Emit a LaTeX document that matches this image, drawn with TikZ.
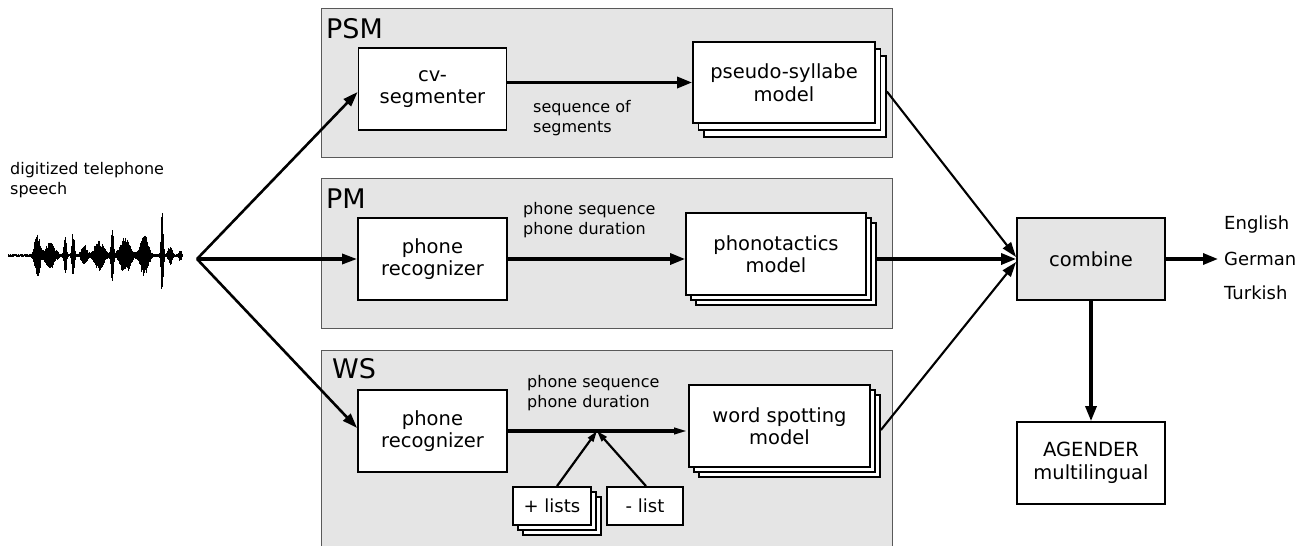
\documentclass[tikz,border=0pt]{standalone}
\usepackage{fontspec}
\setmainfont{DejaVu Sans}
\usetikzlibrary{arrows.meta}
\newcommand\stk[8]{% name, x, y, w, h, dx, dy, text
  \node[box, minimum width=#4, minimum height=#5] (#1c) at (#2+2*#6,#3+2*#7) {};
  \node[box, minimum width=#4, minimum height=#5] (#1b) at (#2+#6,#3+#7) {};
  \node[box, minimum width=#4, minimum height=#5] (#1) at (#2,#3) {#8};
}
\pgfmathdeclarefunction{gb}{3}{%
  \pgfmathparse{min(abs(#1-#2)/#3,6)}%
  \pgfmathparse{exp(-\pgfmathresult*\pgfmathresult)}}
\begin{document}
\begin{tikzpicture}[x=1pt,y=-1pt,
  panel/.style={draw=black!65, fill=black!10, line width=1pt},
  box/.style={draw, line width=1.8pt, fill=white, align=center, inner sep=0pt,
    font=\fontsize{19.5}{22.5}\selectfont},
  plab/.style={font=\fontsize{27}{30}\selectfont, anchor=west, inner sep=0pt},
  lab/.style={font=\fontsize{16}{20}\selectfont, align=left, anchor=west, inner sep=0pt},
  lang/.style={font=\fontsize{18}{22}\selectfont, anchor=west, inner sep=0pt},
  arr/.style={-{Triangle[length=15pt,width=11pt]}, line width=3.2pt},
  darr/.style={-{Triangle[length=15pt,width=10pt]}, line width=2.6pt},
  marr/.style={-{Triangle[length=15pt,width=10pt]}, line width=3.2pt},
  tarr/.style={-{Triangle[length=15pt,width=10pt]}, line width=2.1pt},
  sarr/.style={-{Triangle[length=14pt,width=6pt]}, line width=3.2pt},
  larr/.style={-{Triangle[length=11pt,width=6.5pt]}, line width=2.2pt}]
\useasboundingbox (0,0) rectangle (1307,546);

% panels
\draw[panel] (321,8) rectangle (892,157);
\draw[panel] (321,178) rectangle (892,328);
\fill[black!10] (321,350) rectangle (892,546);
\draw[black!65, line width=1pt] (321,546) -- (321,350) -- (892,350) -- (892,546);
\node[plab] (psm) at (326,29) {PSM};
\node[plab] (pm) at (326,198.5) {PM};
\node[plab] (ws) at (332,369) {WS};

% input
\node[lab] (inp) at (10,180) {digitized telephone\\speech};
\pgfmathsetseed{11}
\draw[line width=1.6pt] (8,255.5) -- (182,255.5);
\foreach \x in {8,8.5,...,182} {
  \pgfmathsetmacro\env{1.3+22*gb(\x,37,3.4)+13*gb(\x,50,6)+21*gb(\x,65,1.5)
     +23*gb(\x,73,1.5)+10*gb(\x,84,3.5)+14*gb(\x,99,6)+29*gb(\x,112,1.5)
     +18*gb(\x,125,6.5)+21*gb(\x,144,5)+44*gb(\x,162,1.4)+9*gb(\x,170,2.5)+5*gb(\x,180,1.5)}
  \pgfmathsetmacro\aa{\env*(0.6+0.4*rnd)}
  \pgfmathsetmacro\bb{\env*(0.6+0.4*rnd)}
  \draw[line width=0.9pt] (\x,255.5-\aa) -- (\x,255.5+\bb);
}
\coordinate (br) at (197,259);

% PSM row
\node[box, minimum width=148, minimum height=82] (cv) at (432.5,89) {cv-\\segmenter};
\stk{ps}{784}{82.5}{182}{81}{5.5}{7}{pseudo-syllabe\\model}
\node[lab] (seglab) at (533,118) {sequence of\\segments};

% PM row
\node[box, minimum width=149, minimum height=82] (rec) at (432.5,259) {phone\\recognizer};
\stk{ph}{776}{254}{180}{82}{5}{5}{phonotactics\\model}
\node[lab] (pmlab) at (523,220) {phone sequence\\phone duration};

% WS row
\node[box, minimum width=149, minimum height=82] (wsrec) at (432.5,431) {phone\\recognizer};
\stk{wsp}{779.5}{426}{181}{82}{5}{5}{word spotting\\model}
\node[lab] (wslab) at (527,393) {phone sequence\\phone duration};
\coordinate (jn) at (597,431);
\stk{pl}{552}{506}{78}{38}{5}{5}{\fontsize{18}{22}\selectfont + lists}
\node[box, minimum width=76, minimum height=38, font=\fontsize{18}{22}\selectfont] (ml) at (645,506) {- list};

% right side
\node[box, fill=black!10, minimum width=148, minimum height=82] (comb) at (1091,259) {combine};
\node[box, minimum width=148, minimum height=82] (ag) at (1091,463) {AGENDER\\multilingual};
\node[lang] (eng) at (1224,225) {English};
\node[lang] (ger) at (1224,259) {German};
\node[lang] (tur) at (1224,293) {Turkish};

% connectors
\draw[darr] (br) -- ([yshift=-3pt]cv.west);
\draw[marr] (br) -- (rec.west);
\draw[darr] (br) -- ([yshift=3pt]wsrec.west);
\draw[arr] (cv.east |- ps.west) -- (ps.west);
\draw[arr] (rec.east) -- (rec.east -| ph.west);
\draw[sarr] (wsrec.east) -- (wsrec.east -| wsp.west);
\draw[larr] ([xshift=5pt]pl.north) -- (jn);
\draw[larr] ([xshift=1pt]ml.north) -- (jn);
\draw[tarr] ([yshift=5pt]psc.east) -- ([yshift=2pt]comb.west);
\draw[arr] (phc.east |- comb.west) -- (comb.west);
\draw[tarr] ([yshift=6pt]wspc.east) -- ([yshift=-3pt]comb.west);
\draw[arr] (comb.east) -- ([xshift=-6pt]ger.west);
\draw[arr] (comb.south) -- (ag.north);
\end{tikzpicture}
\end{document}
